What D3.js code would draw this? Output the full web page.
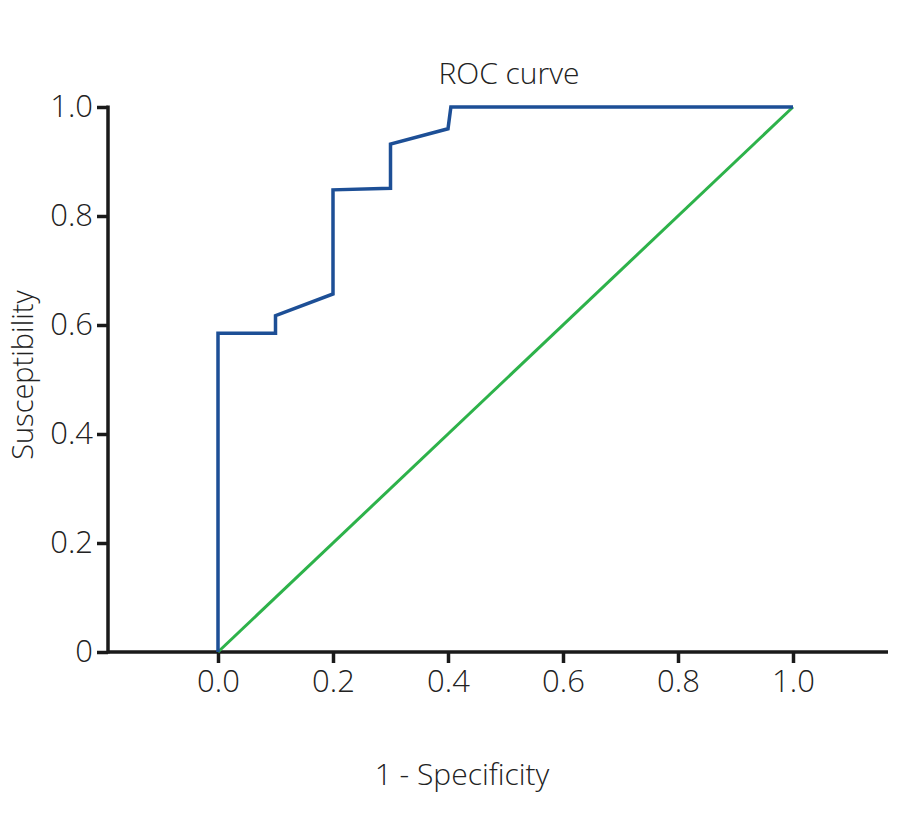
<!DOCTYPE html>
<html>
<head>
<meta charset="utf-8">
<script src="https://cdn.jsdelivr.net/npm/d3@7"></script>
<style>
  body { margin: 0; background: #fff; }
  text { font-family: "Open Sans", "Noto Sans", sans-serif; font-weight: 300; fill: #222; }
</style>
</head>
<body>
<div id="chart"></div>
<script>
// ---- data ----
var rocFpr = [0, 0, 0.1, 0.1, 0.2, 0.2, 0.3, 0.3, 0.4, 0.405, 1.0];
var rocTpr = [0, 0.585, 0.585, 0.617, 0.657, 0.848, 0.851, 0.932, 0.960, 1.0, 1.0];
var refFpr = [0, 1.0];
var refTpr = [0, 1.0];
var xTicks = [0, 0.2, 0.4, 0.6, 0.8, 1.0];
var yTicks = [0, 0.2, 0.4, 0.6, 0.8, 1.0];

var width = 901, height = 826;

var svg = d3.select('#chart').append('svg')
    .attr('width', width).attr('height', height);

// scales: 0 -> 218px, 1 -> 793px ; axis spans 108..888
var x = d3.scaleLinear().domain([0, 1]).range([218, 793]);
var y = d3.scaleLinear().domain([0, 1]).range([652, 107]);
var xLeft = 108, xRight = 888;

// axes
var xAxis = svg.append('g')
    .attr('transform', 'translate(0,652)')
    .call(d3.axisBottom(x).tickValues(xTicks).tickSize(11).tickPadding(7)
      .tickFormat(d3.format('.1f')));
xAxis.select('.domain').remove();
xAxis.selectAll('line').attr('stroke', '#1a1a1a').attr('stroke-width', 3.5);
xAxis.selectAll('text').style('font-size', '31px').attr('fill', '#222');

var yAxis = svg.append('g')
    .attr('transform', 'translate(' + xLeft + ',0)')
    .call(d3.axisLeft(y).tickValues(yTicks).tickSize(11).tickPadding(4)
      .tickFormat(function(d) { return d === 0 ? '0' : d3.format('.1f')(d); }));
yAxis.select('.domain').remove();
yAxis.selectAll('line').attr('stroke', '#1a1a1a').attr('stroke-width', 3.5);
yAxis.selectAll('text').style('font-size', '31px').attr('fill', '#222');

// axis lines
svg.append('line')
    .attr('x1', xLeft).attr('x2', xRight)
    .attr('y1', y(0)).attr('y2', y(0))
    .attr('stroke', '#1a1a1a').attr('stroke-width', 3.5);
svg.append('line')
    .attr('x1', xLeft).attr('x2', xLeft)
    .attr('y1', y(1) - 1.5).attr('y2', y(0) + 1.5)
    .attr('stroke', '#1a1a1a').attr('stroke-width', 3.5);

var line = d3.line()
    .x(function(d) { return x(d[0]); })
    .y(function(d) { return y(d[1]); });

// reference diagonal
svg.append('path')
    .datum(d3.zip(refFpr, refTpr))
    .attr('d', line)
    .attr('fill', 'none')
    .attr('stroke', '#2db24a')
    .attr('stroke-width', 3);

// ROC curve
svg.append('path')
    .datum(d3.zip(rocFpr, rocTpr))
    .attr('d', line)
    .attr('fill', 'none')
    .attr('stroke', '#1d4f96')
    .attr('stroke-width', 3.5)
    .attr('stroke-linejoin', 'miter');

// titles
svg.append('text')
    .attr('x', 509).attr('y', 84)
    .attr('text-anchor', 'middle')
    .style('font-size', '30px')
    .text('ROC curve');

svg.append('text')
    .attr('transform', 'translate(33,375) rotate(-90)')
    .attr('text-anchor', 'middle')
    .style('font-size', '29px')
    .text('Susceptibility');

svg.append('text')
    .attr('x', 462).attr('y', 785)
    .attr('text-anchor', 'middle')
    .style('font-size', '30px')
    .text('1 - Specificity');
</script>
</body>
</html>
